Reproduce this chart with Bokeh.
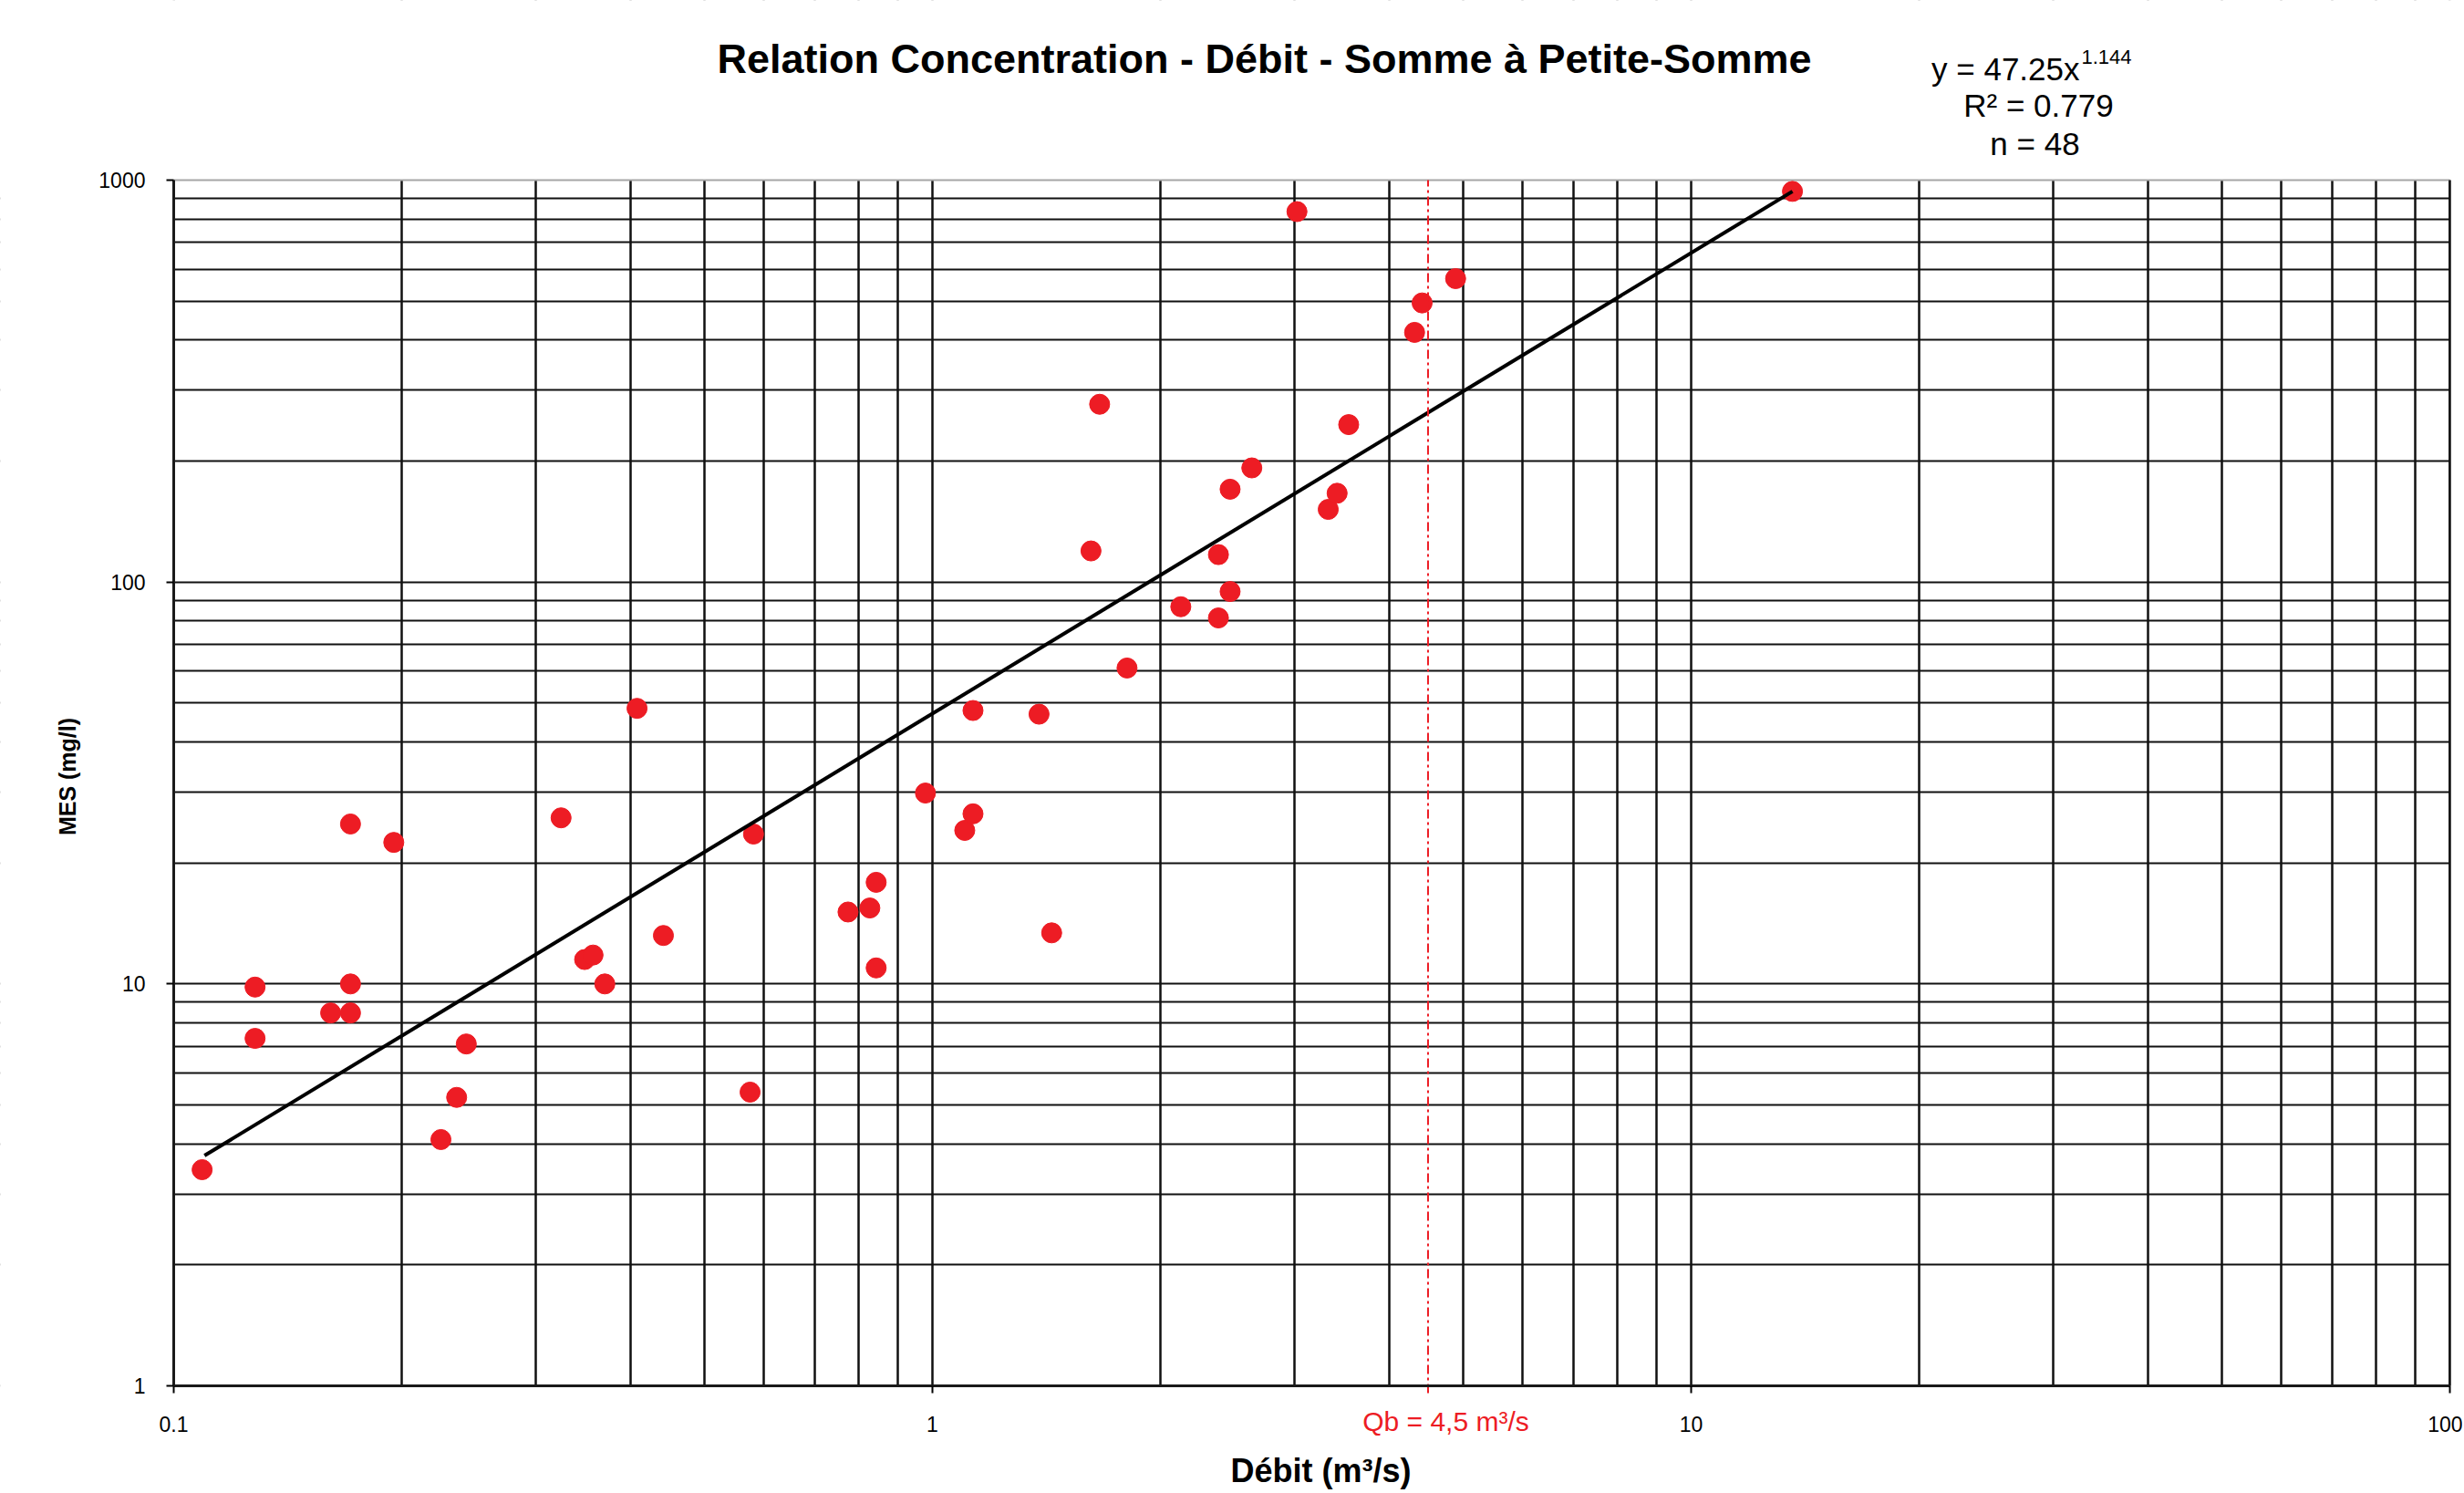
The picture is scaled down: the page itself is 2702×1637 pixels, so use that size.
from bokeh.plotting import figure
from bokeh.models import Range1d, FixedTicker, CustomJSTickFormatter, Label, BoxAnnotation
from bokeh.embed import file_html
from bokeh.resources import INLINE
import math

# ---- data ----
debit = [0.109, 0.128, 0.128, 0.161, 0.171, 0.171, 0.171, 0.195, 0.225, 0.236,
         0.243, 0.324, 0.348, 0.357, 0.370, 0.408, 0.442, 0.575, 0.581, 0.774,
         0.827, 0.843, 0.843, 0.979, 1.103, 1.131, 1.131, 1.382, 1.436, 1.618,
         1.661, 1.805, 2.125, 2.382, 2.382, 2.468, 2.468, 2.636, 3.023, 3.324,
         3.415, 3.537, 4.32, 4.42, 4.893, 13.6]
mes = [3.45, 9.82, 7.32, 8.47, 25.0, 10.0, 8.47, 22.5, 4.10, 5.22,
       7.09, 25.9, 11.5, 11.8, 10.0, 48.5, 13.2, 5.38, 23.6, 15.1,
       15.45, 17.9, 10.96, 29.85, 24.1, 47.9, 26.5, 46.9, 13.4, 119.5,
       276.9, 61.1, 86.8, 117.0, 81.4, 170.2, 94.7, 192.3, 835.0, 151.6,
       166.3, 246.4, 418.0, 494.8, 568.8, 937.5]
trend_x = [0.1098, 13.6]
trend_y = [3.74, 937.5]
qb = 4.5
x_ticks = [0.1, 1, 10, 100]
x_tick_labels = ["0.1", "1", "10", "100"]
y_ticks = [1, 10, 100, 1000]
y_tick_labels = ["1", "10", "100", "1000"]
title_text = "Relation Concentration - Débit - Somme à Petite-Somme"
eq_main = "y = 47.25x"
eq_exp = "1.144"
r2_text = "R² = 0.779"
n_text = "n = 48"
qb_text = "Qb = 4,5 m³/s"
x_label = "Débit (m³/s)"
y_label = "MES (mg/l)"

FONT = "Liberation Sans"
RED = "#ED1C24"

# ---- layout: the frame fills the canvas; the plot box is placed in pixels ----
W, H = 2700, 1635
PX_L, PX_R = 190, 2686   # pixel columns of x = 0.1 and x = 100
PX_T, PX_B = 197, 1519   # pixel rows of y = 1000 and y = 1
XDEC = (PX_R - PX_L) / 3.0
YDEC = (PX_B - PX_T) / 3.0
x_lo = 10 ** (-1 - PX_L / XDEC)
x_hi = 10 ** (2 + (W - PX_R) / XDEC)
y_lo = 10 ** (0 - (H - PX_B) / YDEC)
y_hi = 10 ** (3 + PX_T / YDEC)


def px_x(px):
    return 10 ** (-1 + (px - PX_L) / XDEC)


def px_y(py):
    return 10 ** ((PX_B - py) / YDEC)


p = figure(width=W, height=H, x_axis_type="log", y_axis_type="log",
           x_range=Range1d(x_lo, x_hi), y_range=Range1d(y_lo, y_hi),
           output_backend="svg", toolbar_location=None,
           min_border=0, min_border_left=0, min_border_right=0,
           min_border_top=0, min_border_bottom=0)
p.title.visible = False
p.background_fill_color = "white"
p.border_fill_color = "white"
p.outline_line_color = None

x_minor = [m * d for d in (0.1, 1, 10) for m in range(2, 10)]
y_minor = [m * d for d in (1, 10, 100) for m in range(2, 10)]

p.xaxis.ticker = FixedTicker(ticks=x_ticks, minor_ticks=x_minor)
p.yaxis.ticker = FixedTicker(ticks=y_ticks, minor_ticks=y_minor)
p.xgrid.ticker = FixedTicker(ticks=x_ticks, minor_ticks=x_minor)
p.ygrid.ticker = FixedTicker(ticks=y_ticks[:-1], minor_ticks=y_minor)

p.xaxis.formatter = CustomJSTickFormatter(code="return tick.toString()")
p.yaxis.formatter = CustomJSTickFormatter(code="return tick.toString()")
p.xaxis.major_label_overrides = dict(zip(x_ticks, x_tick_labels))
p.yaxis.major_label_overrides = dict(zip(y_ticks, y_tick_labels))

p.xaxis.fixed_location = 1
p.yaxis.fixed_location = 0.1
p.xaxis.bounds = (0.1, 100)
p.yaxis.bounds = (1, 1000)

for ax in (p.xaxis, p.yaxis):
    ax.major_label_text_font = FONT
    ax.major_label_text_font_size = "23px"
    ax.major_label_text_color = "black"
    ax.axis_line_color = "#1a1a1a"
    ax.axis_line_width = 3
    ax.major_tick_line_color = "black"
    ax.major_tick_line_width = 2
    ax.major_tick_out = 8
    ax.major_tick_in = 0
    ax.minor_tick_line_color = None
p.xaxis.major_label_standoff = 25
p.yaxis.major_label_standoff = 23

p.xgrid.grid_line_color = "#111111"
p.xgrid.grid_line_width = 2.5
p.xgrid.minor_grid_line_color = "#111111"
p.xgrid.minor_grid_line_width = 2.5
p.ygrid.grid_line_color = "#111111"
p.ygrid.grid_line_width = 2
p.ygrid.minor_grid_line_color = "#111111"
p.ygrid.minor_grid_line_width = 2

# white masks (reaching past the canvas) so the grid stays inside the plot box
far_lo_x, far_hi_x = x_lo / 10, x_hi * 10
far_lo_y, far_hi_y = y_lo / 10, y_hi * 10
masks = [dict(left=far_lo_x, right=0.1, bottom=far_lo_y, top=far_hi_y),
         dict(left=100, right=far_hi_x, bottom=far_lo_y, top=far_hi_y),
         dict(left=far_lo_x, right=far_hi_x, bottom=far_lo_y, top=1),
         dict(left=far_lo_x, right=far_hi_x, bottom=1000, top=far_hi_y)]
for kw in masks:
    p.add_layout(BoxAnnotation(fill_color="white", fill_alpha=1.0, line_color=None,
                               level="underlay", **kw))

# plot-box border: grey top edge, black right edge
p.line([0.1, 100], [1000, 1000], line_color="#a6a6a6", line_width=2)
p.line([100, 100], [1, 1000], line_color="#111111", line_width=2.5)

# ---- data marks ----
p.scatter(debit, mes, size=22, fill_color=RED, line_color=RED)
p.line(trend_x, trend_y, line_color="black", line_width=4)
p.line([qb, qb], [px_y(1527), 1000], line_color=RED, line_width=2, line_dash="10 4 3 4")


# ---- texts ----
def lab(text, px, py, size, bold=False, color="black", align="center", angle=0.0):
    p.add_layout(Label(x=px_x(px), y=px_y(py), text=text,
                       text_font=FONT, text_font_size=f"{size}px",
                       text_font_style="bold" if bold else "normal",
                       text_color=color, text_align=align,
                       text_baseline="middle", angle=angle))


lab(title_text, 1386, 64, 45, bold=True)
lab(eq_main, 2280, 75, 35, align="right")
lab(eq_exp, 2282, 62, 22, align="left")
lab(r2_text, 2235, 115, 35)
lab(n_text, 2231, 157, 35)
lab(qb_text, 1585, 1558, 30, color=RED)
lab(x_label, 1448, 1612, 36, bold=True)
lab(y_label, 73, 851, 25, bold=True, angle=math.pi / 2)

open("out.html", "w").write(file_html(p, INLINE))
